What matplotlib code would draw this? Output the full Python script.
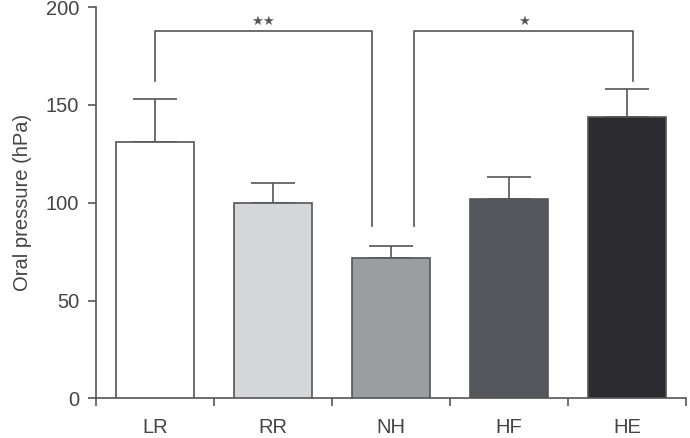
import numpy as np
import matplotlib
matplotlib.use('Agg')
import matplotlib.pyplot as plt

plt.rcParams['font.family'] = ['Liberation Sans', 'DejaVu Sans']

groups = ['LR', 'RR', 'NH', 'HF', 'HE']
means = [131, 100, 72, 102, 144]
errs = [22, 10, 6, 11, 14]
colors = ['#ffffff', '#d5d6d8', '#9c9d9f', '#56575c', '#2b2b30']

GRAY = '#555555'
TXT = '#444444'

fig = plt.figure(figsize=(6.9, 4.38), dpi=100)
ax = fig.add_axes([0.139, 0.0906, 0.855, 0.893])

x = np.arange(len(groups))
ax.bar(x, means, width=0.66, color=colors, edgecolor=GRAY, linewidth=1.2, zorder=3)
ax.errorbar(x, means, yerr=[np.zeros(len(errs)), errs], fmt='none',
            ecolor=GRAY, elinewidth=1.2, capsize=16, capthick=1.2, zorder=2)

# significance brackets (stars drawn as glyphs like the original)
def bracket(x1, x2, y1, y2, top, label):
    ax.plot([x1, x1, x2, x2], [y1, top, top, y2], color=GRAY, lw=1.2, clip_on=False)
    ax.text((x1 + x2) / 2, top + 1.5, label, ha='center', va='bottom',
            fontsize=9.5, color=GRAY, family='DejaVu Sans')

bracket(0, 2 - 0.16, 162, 88, 188, '\u2605\u2605')
bracket(2 + 0.2, 4.05, 88, 162, 188, '\u2605')

ax.set_xlim(-0.5, 4.5)
ax.set_ylim(0, 200)
ax.set_yticks([0, 50, 100, 150, 200])
ax.set_xticks(x)
ax.set_xticklabels(groups)
ax.set_xticks(np.arange(-0.5, 4.6, 1), minor=True)
ax.tick_params(axis='x', which='major', length=0, pad=14, labelsize=14.5, labelcolor=TXT)
ax.tick_params(axis='x', which='minor', length=6, width=1.2, color=GRAY, direction='out')
ax.tick_params(axis='y', length=6, width=1.2, color=GRAY, labelsize=14.5, labelcolor=TXT, pad=6)

for s in ['top', 'right']:
    ax.spines[s].set_visible(False)
for s in ['left', 'bottom']:
    ax.spines[s].set_color(GRAY)
    ax.spines[s].set_linewidth(1.2)

ax.set_ylabel('Oral pressure (hPa)', fontsize=14.5, color=TXT, labelpad=10)

fig.savefig('out.png', dpi=100)
